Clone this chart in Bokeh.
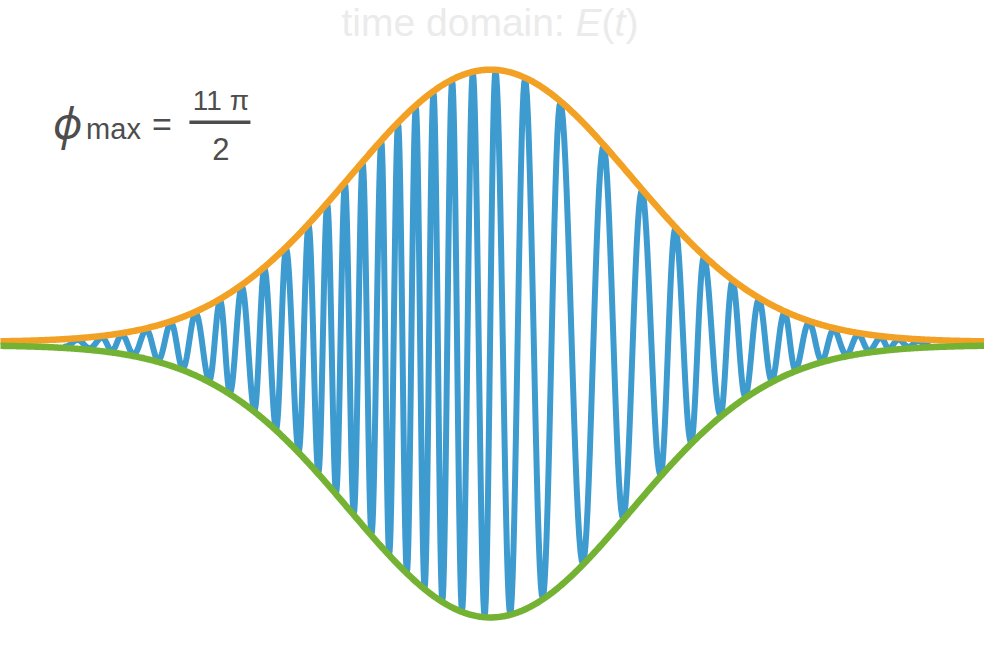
import numpy as np
from bokeh.plotting import figure
from bokeh.models import Range1d, Label, BoxAnnotation
from bokeh.embed import file_html
from bokeh.resources import INLINE

# ---- data (time in arbitrary units, field normalised to its peak) ----
# times of the successive crests (+1) and troughs (-1) of the oscillating field E(t)
extrema_t = [-4.34, -4.22, -4.10, -3.97, -3.87, -3.77, -3.65, -3.52, -3.40, -3.27,
             -3.15, -3.02, -2.88, -2.77, -2.67, -2.55, -2.42, -2.32, -2.20, -2.10,
             -1.97, -1.87, -1.77, -1.68, -1.59, -1.50, -1.41, -1.32, -1.23, -1.13,
             -1.05, -0.96, -0.87, -0.78, -0.69, -0.60, -0.51, -0.41, -0.31, -0.20,
             -0.08, 0.03, 0.18, 0.33, 0.51, 0.69, 0.92, 1.13, 1.33, 1.52,
             1.71, 1.86, 2.02, 2.15, 2.32, 2.44, 2.57, 2.71, 2.84, 2.97,
             3.08, 3.22, 3.35, 3.47, 3.60, 3.72, 3.83, 3.95, 4.03, 4.13,
             4.23, 4.33, 4.43]
extrema_sign = [-1, 1, -1, 1, -1, 1, -1, 1, -1, 1,
                -1, 1, -1, 1, -1, 1, -1, 1, -1, 1,
                -1, 1, -1, 1, -1, 1, -1, 1, -1, 1,
                -1, 1, -1, 1, -1, 1, -1, 1, -1, 1,
                -1, 1, -1, 1, -1, 1, -1, 1, -1, 1,
                -1, 1, -1, 1, -1, 1, -1, 1, -1, 1,
                -1, 1, -1, 1, -1, 1, -1, 1, -1, 1,
                -1, 1, -1]
# Gaussian envelope of the pulse
env_peak = 1.0
env_center = -0.02
env_sigma = 1.43
t_min, t_max = -5.0, 5.0
e_min, e_max = -1.120, 1.260

title_parts = ["time domain:", "E", "(", "t", ")"]
annot_numerator = "11 \u03c0"
annot_denominator = "2"

W, H = 984, 648


def envelope(t):
    return env_peak * np.exp(-((t - env_center) ** 2) / (2 * env_sigma ** 2))


# oscillating field: half-waves between consecutive extrema, scaled by the envelope
te = np.array(extrema_t, dtype=float)
se = np.array(extrema_sign, dtype=float)
bx, by = [], []
for k in range(len(te) - 1):
    u = np.linspace(0.0, 1.0, 18, endpoint=False)
    tt = te[k] + (te[k + 1] - te[k]) * u
    bx.extend(tt)
    by.extend(se[k] * np.cos(np.pi * u) * envelope(tt))
bx.append(te[-1])
by.append(se[-1] * envelope(te[-1]))

tg = np.linspace(t_min, t_max, 900)
eg = envelope(tg)
gap = 0.006

p = figure(width=W, height=H, output_backend="svg", toolbar_location=None,
           x_range=Range1d(t_min, t_max), y_range=Range1d(e_min, e_max),
           x_axis_type=None, y_axis_type=None, min_border=0)
p.grid.visible = False
p.outline_line_color = None
p.background_fill_color = "white"
p.border_fill_color = "white"

p.line(bx, by, line_color="#3e9bcf", line_width=6, line_join="round", line_cap="round")
p.line(tg, eg + gap, line_color="#f2a125", line_width=6.5, line_join="round", line_cap="round")
p.line(tg, -eg - gap, line_color="#74b234", line_width=6.5, line_join="round", line_cap="round")


def sx(x):
    return x * W / 1000.0


def sy(y):
    return (664 - y) * H / 664.0


def label(txt, x, base_ref, size_px, color, font="Liberation Sans", style="normal",
          align="left", desc=0.212):
    # place the text's baseline at the reference y (text box bottom = baseline + descent)
    ybot = sy(base_ref) - desc * size_px
    p.add_layout(Label(x=x, y=ybot, x_units="screen", y_units="screen", text=txt,
                       text_color=color, text_font=font, text_font_size=f"{size_px}px",
                       text_font_style=style, text_align=align,
                       text_baseline="bottom"))


# title (light grey, with italic E and t)
tc = "#ebebeb"
title_x = [341, 575, 601, 614, 625]
title_style = ["normal", "italic", "normal", "italic", "normal"]
for txt, xx, st in zip(title_parts, title_x, title_style):
    label(txt, xx, 36.5, 39, tc, style=st)

# annotation phi_max = 11 pi / 2
ac = "#4d4d4d"
label("\u03d5", sx(53), 142, 44, ac, font="Noto Sans", style="italic", desc=0.293)
label("max", sx(87), 142, 29, ac)
label("=", sx(154), 139, 34, ac)
label(annot_numerator, sx(224), 112, 28, ac, align="center")
label(annot_denominator, sx(224), 157, 31, ac, align="center")
p.add_layout(BoxAnnotation(left=sx(192), right=sx(254), bottom=sy(126.5), top=sy(123),
                           left_units="screen", right_units="screen",
                           bottom_units="screen", top_units="screen",
                           fill_color=ac, fill_alpha=1.0, line_color=None))

open("out.html", "w").write(file_html(p, INLINE))
